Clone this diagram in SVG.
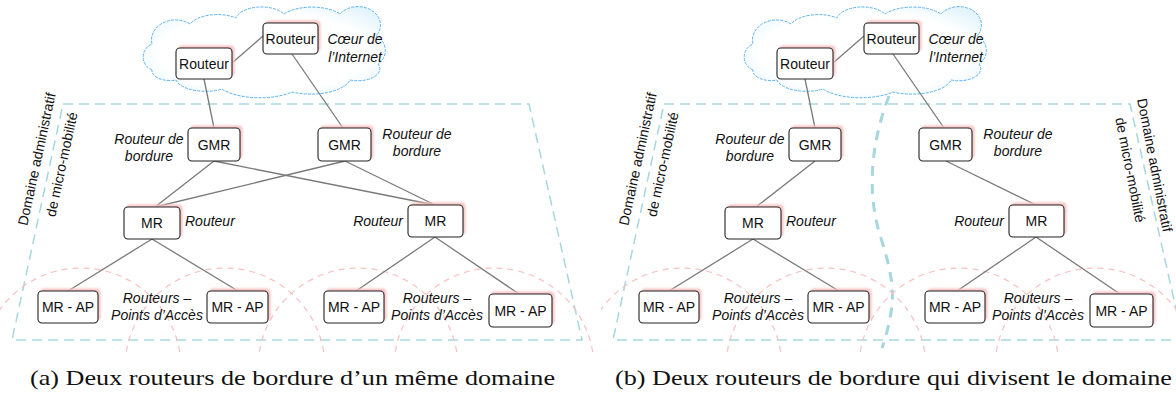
<svg xmlns="http://www.w3.org/2000/svg" width="1176" height="394" viewBox="0 0 1176 394">
<style>
.box{fill:#fff;stroke:#222;stroke-width:1.1}
.sh{fill:#f7c2c2;filter:url(#blur)}
.lbl{font-family:"Liberation Sans",Arial,sans-serif;font-size:14px;fill:#111;text-anchor:middle}
.it{font-style:italic}
.st{text-anchor:start}
.en{text-anchor:end}
.conn{stroke:#7a7a7a;stroke-width:1.3;fill:none}
.dom{fill:none;stroke:#a6d7df;stroke-width:1.5;stroke-dasharray:10 6}
.div{fill:none;stroke:#a6d7df;stroke-width:3;stroke-dasharray:10 8}
.cov{fill:none;stroke:#f9c0c0;stroke-width:1.2;stroke-dasharray:6 5}
.cloud{fill:url(#cg);stroke:#5cb3f0;stroke-width:1;stroke-dasharray:3 1.2}
.cap{font-family:"Liberation Serif","Times New Roman",serif;font-size:21.5px;fill:#111}
</style>
<defs>
<filter id="blur" x="-20%" y="-20%" width="140%" height="140%"><feGaussianBlur stdDeviation="0.8"/></filter>
<radialGradient id="cg" cx="0.5" cy="0.5" r="0.62">
<stop offset="0.7" stop-color="#ffffff"/>
<stop offset="1" stop-color="#e2f4fc"/>
</radialGradient>
<clipPath id="cc"><rect x="0" y="0" width="1176" height="354"/></clipPath>
<path id="cloudp" d="M 152 70 A 14 14 0 0 1 152 44 A 24 20 0 0 1 190 24 A 30 16 0 0 1 236 18 A 26 14 0 0 1 284 14 A 34 16 0 0 1 340 14 A 22 18 0 0 1 376 36 A 16 16 0 0 1 378 64 A 22 12 0 0 1 350 80 A 40 18 0 0 1 292 92 A 44 18 0 0 1 222 89 A 30 14 0 0 1 176 80 A 18 10 0 0 1 152 70 Z"/>
</defs>

<!-- Panel (a) -->
<g id="panel-a">
<use href="#cloudp" class="cloud" id="a-cloud"/>
<polygon class="dom" id="a-domain" points="63,104 529,104 582,340 12,340"/>
<text class="lbl" transform="translate(41.5,160) rotate(-77.8)"><tspan x="0" y="0">Domaine administratif</tspan><tspan x="0" y="25.5">de micro-mobilité</tspan></text>
<g clip-path="url(#cc)">
<circle class="cov" cx="81" cy="368" r="100"/>
<circle class="cov" cx="225" cy="368" r="100"/>
<circle class="cov" cx="358" cy="368" r="100"/>
<circle class="cov" cx="494" cy="368" r="100"/>
</g>
<g id="a-connectors">
<line class="conn" x1="232" y1="63" x2="263" y2="36"/>
<line class="conn" x1="204" y1="79" x2="214" y2="128"/>
<line class="conn" x1="292" y1="54" x2="343" y2="128"/>
<line class="conn" x1="214" y1="161" x2="155" y2="207"/>
<line class="conn" x1="214" y1="161" x2="435" y2="205"/>
<line class="conn" x1="345" y1="161" x2="155" y2="207"/>
<line class="conn" x1="345" y1="161" x2="435" y2="205"/>
<line class="conn" x1="152" y1="239" x2="68" y2="291"/>
<line class="conn" x1="152" y1="239" x2="238" y2="291"/>
<line class="conn" x1="435" y1="237" x2="356" y2="291"/>
<line class="conn" x1="435" y1="237" x2="519" y2="294"/>
</g>
<g id="a-r1"><rect class="sh" x="178.5" y="45.5" width="56" height="31" rx="4"/><rect class="box" x="176" y="48" width="56" height="31" rx="4"/><text class="lbl" x="204" y="68.5">Routeur</text></g>
<g id="a-r2"><rect class="sh" x="265.5" y="20.5" width="55" height="31" rx="4"/><rect class="box" x="263" y="23" width="55" height="31" rx="4"/><text class="lbl" x="290.5" y="43.5">Routeur</text></g>
<g id="a-gmr1"><rect class="sh" x="190.5" y="125.5" width="52" height="33" rx="4"/><rect class="box" x="188" y="128" width="52" height="33" rx="4"/><text class="lbl" x="214" y="149.5">GMR</text></g>
<g id="a-gmr2"><rect class="sh" x="320.5" y="125.5" width="53" height="33" rx="4"/><rect class="box" x="318" y="128" width="53" height="33" rx="4"/><text class="lbl" x="344.5" y="149.5">GMR</text></g>
<g id="a-mr1"><rect class="sh" x="126.5" y="204.5" width="56" height="32" rx="4"/><rect class="box" x="124" y="207" width="56" height="32" rx="4"/><text class="lbl" x="152" y="228">MR</text></g>
<g id="a-mr2"><rect class="sh" x="410.5" y="202.5" width="55" height="32" rx="4"/><rect class="box" x="408" y="205" width="55" height="32" rx="4"/><text class="lbl" x="435.5" y="226">MR</text></g>
<g id="a-ap1"><rect class="sh" x="40.5" y="288.5" width="60" height="32" rx="4"/><rect class="box" x="38" y="291" width="60" height="32" rx="4"/><text class="lbl" x="68" y="312">MR - AP</text></g>
<g id="a-ap2"><rect class="sh" x="209.5" y="288.5" width="61" height="32" rx="4"/><rect class="box" x="207" y="291" width="61" height="32" rx="4"/><text class="lbl" x="237.5" y="312">MR - AP</text></g>
<g id="a-ap3"><rect class="sh" x="326.5" y="288.5" width="60" height="32" rx="4"/><rect class="box" x="324" y="291" width="60" height="32" rx="4"/><text class="lbl" x="354" y="312">MR - AP</text></g>
<g id="a-ap4"><rect class="sh" x="491.5" y="291.5" width="63" height="33" rx="4"/><rect class="box" x="489" y="294" width="63" height="33" rx="4"/><text class="lbl" x="520.5" y="315.5">MR - AP</text></g>
<g id="a-labels">
<text class="lbl it" x="355" y="44">Cœur de</text>
<text class="lbl it" x="355" y="62">l’Internet</text>
<text class="lbl it" x="149" y="144">Routeur de</text>
<text class="lbl it" x="149" y="161">bordure</text>
<text class="lbl it" x="417" y="139">Routeur de</text>
<text class="lbl it" x="417" y="156">bordure</text>
<text class="lbl it st" x="185" y="226">Routeur</text>
<text class="lbl it en" x="403" y="226">Routeur</text>
<text class="lbl it" x="157" y="303">Routeurs –</text>
<text class="lbl it" x="157" y="320">Points d’Accès</text>
<text class="lbl it" x="437" y="303">Routeurs –</text>
<text class="lbl it" x="437" y="320">Points d’Accès</text>
</g>
</g>

<!-- Panel (b) -->
<g id="panel-b" transform="translate(601,0)">
<use href="#cloudp" class="cloud" id="b-cloud"/>
<polygon class="dom" id="b-domain" points="63,104 529,104 582,340 12,340"/>
<path class="div" id="b-divider" d="M 288 96 C 271 140, 265 190, 279 235 S 297 300, 281 348"/>
<text class="lbl" transform="translate(41.5,160) rotate(-77.8)"><tspan x="0" y="0">Domaine administratif</tspan><tspan x="0" y="25.5">de micro-mobilité</tspan></text>
<text class="lbl" transform="translate(549,166) rotate(79)"><tspan x="0" y="0">Domaine administratif</tspan><tspan x="0" y="25">de micro-mobilité</tspan></text>
<g clip-path="url(#cc)">
<circle class="cov" cx="81" cy="368" r="100"/>
<circle class="cov" cx="225" cy="368" r="100"/>
<circle class="cov" cx="358" cy="368" r="100"/>
<circle class="cov" cx="494" cy="368" r="100"/>
</g>
<g id="b-connectors">
<line class="conn" x1="232" y1="63" x2="263" y2="36"/>
<line class="conn" x1="204" y1="79" x2="214" y2="128"/>
<line class="conn" x1="292" y1="54" x2="343" y2="128"/>
<line class="conn" x1="214" y1="161" x2="155" y2="207"/>
<line class="conn" x1="345" y1="161" x2="435" y2="205"/>
<line class="conn" x1="152" y1="239" x2="68" y2="291"/>
<line class="conn" x1="152" y1="239" x2="238" y2="291"/>
<line class="conn" x1="435" y1="237" x2="356" y2="291"/>
<line class="conn" x1="435" y1="237" x2="519" y2="294"/>
</g>
<g id="b-r1"><rect class="sh" x="178.5" y="45.5" width="56" height="31" rx="4"/><rect class="box" x="176" y="48" width="56" height="31" rx="4"/><text class="lbl" x="204" y="68.5">Routeur</text></g>
<g id="b-r2"><rect class="sh" x="265.5" y="20.5" width="55" height="31" rx="4"/><rect class="box" x="263" y="23" width="55" height="31" rx="4"/><text class="lbl" x="290.5" y="43.5">Routeur</text></g>
<g id="b-gmr1"><rect class="sh" x="190.5" y="125.5" width="52" height="33" rx="4"/><rect class="box" x="188" y="128" width="52" height="33" rx="4"/><text class="lbl" x="214" y="149.5">GMR</text></g>
<g id="b-gmr2"><rect class="sh" x="320.5" y="125.5" width="53" height="33" rx="4"/><rect class="box" x="318" y="128" width="53" height="33" rx="4"/><text class="lbl" x="344.5" y="149.5">GMR</text></g>
<g id="b-mr1"><rect class="sh" x="126.5" y="204.5" width="56" height="32" rx="4"/><rect class="box" x="124" y="207" width="56" height="32" rx="4"/><text class="lbl" x="152" y="228">MR</text></g>
<g id="b-mr2"><rect class="sh" x="410.5" y="202.5" width="55" height="32" rx="4"/><rect class="box" x="408" y="205" width="55" height="32" rx="4"/><text class="lbl" x="435.5" y="226">MR</text></g>
<g id="b-ap1"><rect class="sh" x="40.5" y="288.5" width="60" height="32" rx="4"/><rect class="box" x="38" y="291" width="60" height="32" rx="4"/><text class="lbl" x="68" y="312">MR - AP</text></g>
<g id="b-ap2"><rect class="sh" x="209.5" y="288.5" width="61" height="32" rx="4"/><rect class="box" x="207" y="291" width="61" height="32" rx="4"/><text class="lbl" x="237.5" y="312">MR - AP</text></g>
<g id="b-ap3"><rect class="sh" x="326.5" y="288.5" width="60" height="32" rx="4"/><rect class="box" x="324" y="291" width="60" height="32" rx="4"/><text class="lbl" x="354" y="312">MR - AP</text></g>
<g id="b-ap4"><rect class="sh" x="491.5" y="291.5" width="63" height="33" rx="4"/><rect class="box" x="489" y="294" width="63" height="33" rx="4"/><text class="lbl" x="520.5" y="315.5">MR - AP</text></g>
<g id="b-labels">
<text class="lbl it" x="355" y="44">Cœur de</text>
<text class="lbl it" x="355" y="62">l’Internet</text>
<text class="lbl it" x="149" y="144">Routeur de</text>
<text class="lbl it" x="149" y="161">bordure</text>
<text class="lbl it" x="417" y="139">Routeur de</text>
<text class="lbl it" x="417" y="156">bordure</text>
<text class="lbl it st" x="185" y="226">Routeur</text>
<text class="lbl it en" x="403" y="226">Routeur</text>
<text class="lbl it" x="157" y="303">Routeurs –</text>
<text class="lbl it" x="157" y="320">Points d’Accès</text>
<text class="lbl it" x="437" y="303">Routeurs –</text>
<text class="lbl it" x="437" y="320">Points d’Accès</text>
</g>
</g>

<g id="captions">
<text class="cap" x="30" y="385" textLength="525" lengthAdjust="spacingAndGlyphs">(a) Deux routeurs de bordure d’un même domaine</text>
<text class="cap" x="615" y="385" textLength="557" lengthAdjust="spacingAndGlyphs">(b) Deux routeurs de bordure qui divisent le domaine</text>
</g>
</svg>
